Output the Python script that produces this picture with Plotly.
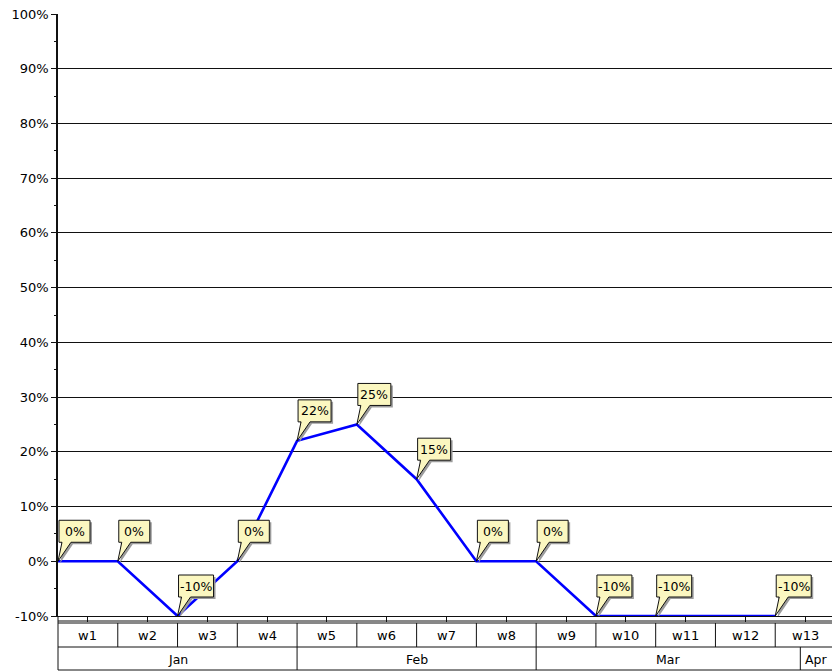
import plotly.graph_objects as go

# ---- data ----
weeks = [f"w{i}" for i in range(1, 14)]
values = [0, 0, -10, 0, 22, 25, 15, 0, 0, -10, -10, None, -10]
months = ["Jan", "Feb", "Mar", "Apr"]
month_start = [0, 4, 8, 12.42]          # in weeks from w1
y_ticks = list(range(-10, 101, 10))
y_tick_text = [f"{v}%" for v in y_ticks]

# ---- layout constants ----
W, H = 832, 672
ML, MR, MT, MB = 58, 0, 14, 56
XR = [0, 12.95]
YR = [-10, 100]
FONT = "DejaVu Sans"
TXT = "#000000"
LINE = "#111111"
CALLOUT_FILL = "#fbf7c0"
SHADOW = "#9c9c9c"

def xpaper(v):
    return (v - XR[0]) / (XR[1] - XR[0])

fig = go.Figure()
xs = list(range(len(weeks)))
fig.add_trace(go.Scatter(
    x=xs, y=values, mode="lines", connectgaps=True, cliponaxis=False,
    line=dict(color="#0000ff", width=2.6), hoverinfo="skip", showlegend=False))

shapes = []
annotations = []

# ---- callouts ----
for i, v in zip(xs, values):
    if v is None:
        continue
    label = f"{v}%"
    w = 27 + 2 * len(label)
    bx0, bx1, by0, by1 = 1, 1 + w, 19, 41
    def poly(dx, dy):
        pts = [(0, 0), (13, by0), (bx1, by0), (bx1, by1), (bx0, by1), (bx0, by0), (4, by0)]
        return "M " + " L ".join(f"{px + dx},{py + dy}" for px, py in pts) + " Z"
    common = dict(type="path", xref="x", yref="y", xsizemode="pixel", ysizemode="pixel",
                  xanchor=i, yanchor=v, layer="above")
    shapes.append(dict(path=poly(2, -2), fillcolor=SHADOW, line=dict(width=0), **common))
    shapes.append(dict(path=poly(0, 0), fillcolor=CALLOUT_FILL, line=dict(color=LINE, width=1), **common))
    annotations.append(dict(x=i, y=v, xref="x", yref="y", text=label, showarrow=False,
                            xanchor="center", yanchor="middle",
                            xshift=bx0 + w / 2, yshift=(by0 + by1) / 2,
                            font=dict(family=FONT, size=12.5, color=TXT)))

# ---- category table below the axis ----
def hline(off, width=1):
    shapes.append(dict(type="line", xref="paper", yref="paper", ysizemode="pixel", yanchor=0,
                       x0=0, x1=1, y0=off, y1=off, line=dict(color=LINE, width=width)))

def vline(xv, o0, o1):
    px = xpaper(xv)
    shapes.append(dict(type="line", xref="paper", yref="paper", ysizemode="pixel", yanchor=0,
                       x0=px, x1=px, y0=o0, y1=o1, line=dict(color=LINE, width=1)))

hline(-5)
hline(-7)
hline(-31)
hline(-54)
vline(0, 0, -54)
for k in range(1, len(weeks)):
    vline(k, -7, -31)
for ms in month_start[1:]:
    vline(ms, -31, -54)

for k, wk in enumerate(weeks):
    annotations.append(dict(x=k + 0.5, y=0, xref="x", yref="paper", yshift=-19,
                            text=wk, showarrow=False, xanchor="center", yanchor="middle",
                            font=dict(family=FONT, size=13, color=TXT)))
for j, m in enumerate(months):
    if j + 1 < len(month_start):
        annotations.append(dict(x=(month_start[j] + month_start[j + 1]) / 2, y=0,
                                xref="x", yref="paper", yshift=-43, text=m, showarrow=False,
                                xanchor="center", yanchor="middle",
                                font=dict(family=FONT, size=12.5, color=TXT)))
    else:
        annotations.append(dict(x=month_start[j], y=0, xref="x", yref="paper", yshift=-43,
                                xshift=3, text=m, showarrow=False,
                                xanchor="left", yanchor="middle",
                                font=dict(family=FONT, size=12.5, color=TXT)))

fig.update_layout(
    width=W, height=H,
    margin=dict(l=ML, r=MR, t=MT, b=MB, pad=0),
    paper_bgcolor="white", plot_bgcolor="white",
    showlegend=False,
    shapes=shapes, annotations=annotations,
    xaxis=dict(range=XR, showgrid=False, zeroline=False, showline=True,
               linecolor=LINE, linewidth=1,
               tickvals=[k + 0.5 for k in xs], ticks="outside", ticklen=5,
               tickcolor=LINE, tickwidth=1, showticklabels=False, fixedrange=True),
    yaxis=dict(range=YR, tickvals=y_ticks, ticktext=y_tick_text,
               showgrid=True, gridcolor=LINE, gridwidth=1, zeroline=False,
               showline=True, linecolor=LINE, linewidth=1.5,
               ticks="outside", ticklen=5, tickcolor=LINE, tickwidth=1,
               minor=dict(dtick=5, ticks="outside", ticklen=2, tickcolor=LINE, showgrid=False),
               tickfont=dict(family=FONT, size=13, color=TXT), fixedrange=True),
)

fig.write_html("out.html")
